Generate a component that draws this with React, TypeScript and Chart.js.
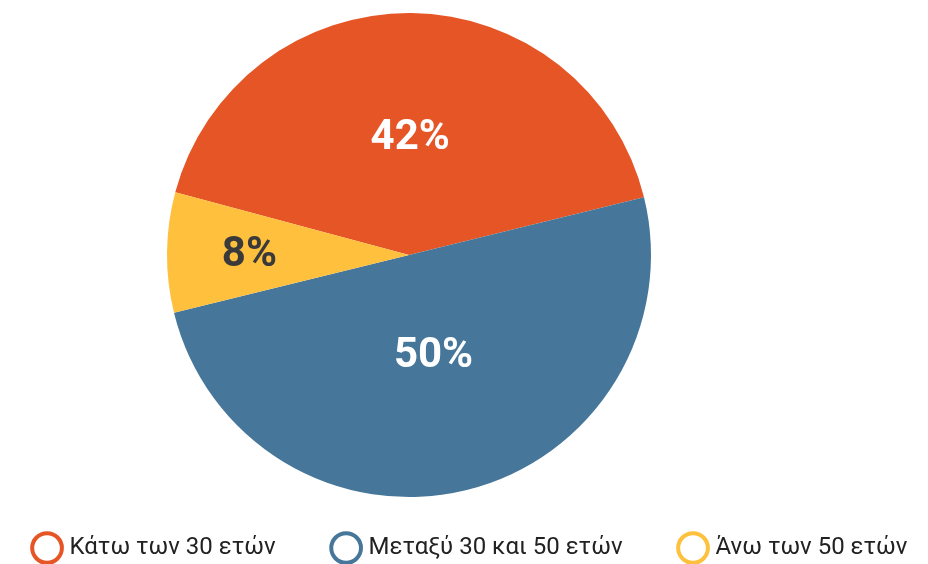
import React, { useEffect, useRef } from "react";
import { Chart, registerables } from "chart.js";

Chart.register(...registerables);

const categories = ["Κάτω των 30 ετών", "Μεταξύ 30 και 50 ετών", "Άνω των 50 ετών"];
const values = [42, 50, 8];
const sliceColors = ["#E65526", "#467699", "#FEC03D"];
const labelColors = ["#FFFFFF", "#FFFFFF", "#3A3A3A"];

const sliceLabels = {
  id: "sliceLabels",
  afterDatasetsDraw(chart: any) {
    const ctx = chart.ctx;
    const meta = chart.getDatasetMeta(0);
    ctx.save();
    ctx.font = "bold 42px Roboto";
    ctx.textAlign = "center";
    ctx.textBaseline = "middle";
    meta.data.forEach((arc: any, i: number) => {
      const { x, y, startAngle, endAngle, outerRadius } = arc.getProps(
        ["x", "y", "startAngle", "endAngle", "outerRadius"],
        true
      );
      const theta = endAngle - startAngle;
      const mid = (startAngle + endAngle) / 2;
      const d = (4 * outerRadius * Math.sin(theta / 2)) / (3 * theta);
      ctx.fillStyle = labelColors[i];
      ctx.fillText(values[i] + "%", x + Math.cos(mid) * d, y + Math.sin(mid) * d + 2);
    });
    ctx.restore();
  },
};

export default function App() {
  const ref = useRef<HTMLCanvasElement>(null);
  useEffect(() => {
    if (!ref.current) return;
    const chart = new Chart(ref.current, {
      type: "pie",
      data: {
        labels: categories,
        datasets: [
          {
            data: values,
            backgroundColor: sliceColors,
            borderWidth: 0,
            hoverOffset: 0,
            radius: 242,
          },
        ],
      },
      options: {
        responsive: false,
        animation: false,
        devicePixelRatio: 1,
        rotation: -75,
        layout: { padding: { top: 26 } },
        plugins: {
          legend: {
            position: "bottom",
            fullSize: true,
            labels: {
              usePointStyle: true,
              pointStyle: "circle",
              boxHeight: 21,
              boxWidth: 21,
              padding: 60,
              color: "#222222",
              font: { family: "Roboto", size: 24 },
              generateLabels: () =>
                categories.map((c, i) => ({
                  text: c,
                  fillStyle: "#FFFFFF",
                  strokeStyle: sliceColors[i],
                  lineWidth: 4,
                  pointStyle: "circle",
                  hidden: false,
                  index: i,
                  fontColor: "#222222",
                })),
            },
          },
          title: {
            display: true,
            position: "right",
            fullSize: false,
            text: " ",
            font: { size: 10 },
            padding: { top: 57, bottom: 57 },
          },
          tooltip: { enabled: false },
        },
      },
      plugins: [sliceLabels],
    } as any);
    return () => chart.destroy();
  }, []);
  return (
    <div
      style={{
        position: "fixed",
        left: 0,
        top: 0,
        width: 928,
        height: 564,
        overflow: "hidden",
        background: "#FFFFFF",
      }}
    >
      <canvas
        ref={ref}
        width={1000}
        height={562}
        style={{ display: "block", position: "absolute", left: -28, top: 8 }}
      />
    </div>
  );
}
